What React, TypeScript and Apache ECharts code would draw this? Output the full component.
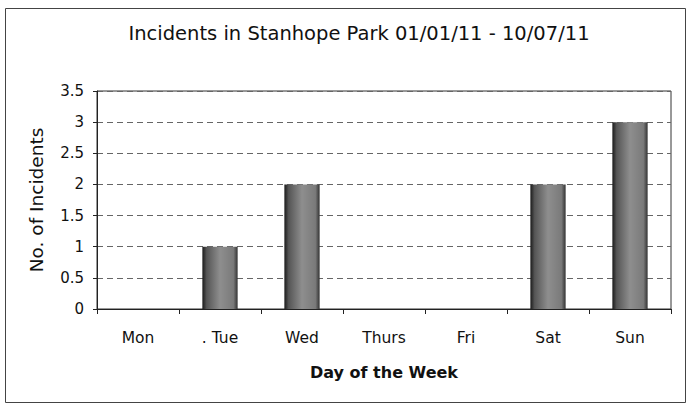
import React, { useEffect, useRef } from "react";
import * as echarts from "echarts";

const categories = ["Mon", ". Tue", "Wed", "Thurs", "Fri", "Sat", "Sun"];
const incidents = [0, 1, 2, 0, 0, 2, 3];
const titleText = "Incidents in Stanhope Park 01/01/11 - 10/07/11";
const yName = "No. of Incidents";
const xName = "Day of the Week";

export default function App() {
  const ref = useRef<HTMLDivElement>(null);
  useEffect(() => {
    if (!ref.current) return;
    const chart = echarts.init(ref.current, null, { renderer: "svg" });
    const font = "'DejaVu Sans', 'Liberation Sans', Arial, sans-serif";
    chart.setOption({
      animation: false,
      backgroundColor: "#ffffff",
      textStyle: { fontFamily: font, color: "#000" },
      title: {
        text: titleText,
        left: 354,
        top: 18,
        textAlign: "center",
        textStyle: { fontFamily: font, fontSize: 19.5, fontWeight: "normal", color: "#111" },
      },
      graphic: [
        {
          type: "rect",
          shape: { x: 5.5, y: 8.5, width: 680, height: 394 },
          style: { fill: "none", stroke: "#444", lineWidth: 1 },
          silent: true,
        },
        {
          type: "rect",
          shape: { x: 97, y: 91, width: 574, height: 218 },
          style: { fill: "none", stroke: "#333", lineWidth: 1 },
          silent: true,
          z: 0,
        },
      ],
      grid: { left: 97, right: 17, top: 91, bottom: 98 },
      xAxis: {
        type: "category",
        data: categories,
        name: xName,
        nameLocation: "middle",
        nameGap: 55,
        nameTextStyle: { fontFamily: font, fontSize: 16, fontWeight: "bold", color: "#111" },
        axisLine: { lineStyle: { color: "#222", width: 1 } },
        axisTick: { show: true, length: 5, inside: false, lineStyle: { color: "#222" } },
        axisLabel: { fontFamily: font, fontSize: 15.5, color: "#111", margin: 21 },
        splitLine: { show: false },
      },
      yAxis: {
        type: "value",
        min: 0,
        max: 3.5,
        interval: 0.5,
        name: yName,
        nameLocation: "middle",
        nameGap: 51,
        nameRotate: 90,
        nameTextStyle: { fontFamily: font, fontSize: 18.5, fontWeight: "normal", color: "#111" },
        axisLine: { show: true, lineStyle: { color: "#222", width: 1 } },
        axisTick: { show: true, length: 4, lineStyle: { color: "#222" } },
        axisLabel: { fontFamily: font, fontSize: 15, color: "#111", margin: 13 },
        splitLine: { show: true, lineStyle: { color: "#666", type: [6, 4], width: 1 } },
      },
      series: [
        {
          type: "bar",
          data: incidents,
          barWidth: "43%",
          itemStyle: {
            color: new echarts.graphic.LinearGradient(0, 0, 1, 0, [
              { offset: 0, color: "#1a1a1a" },
              { offset: 0.12, color: "#555555" },
              { offset: 0.5, color: "#8e8e8e" },
              { offset: 0.88, color: "#7a7a7a" },
              { offset: 1, color: "#333333" },
            ]),
            borderWidth: 0,
          },
        },
      ],
    });
    return () => chart.dispose();
  }, []);
  return (
    <div
      ref={ref}
      style={{ position: "fixed", left: 0, top: 0, width: 688, height: 407 }}
    />
  );
}
